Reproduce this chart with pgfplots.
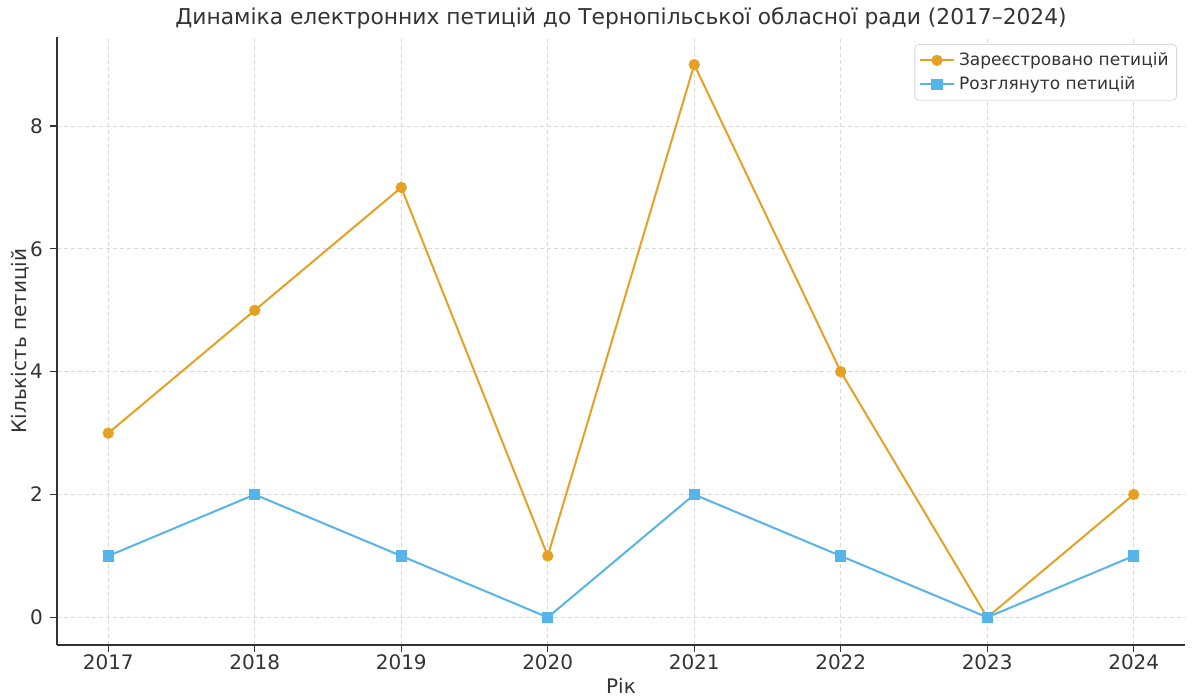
\documentclass[border=0pt]{standalone}
\usepackage{fontspec}
\setmainfont{DejaVu Sans}
\usepackage{pgfplots}
\pgfplotsset{compat=1.18}
\definecolor{regorange}{HTML}{E6A024}
\definecolor{revblue}{HTML}{56B4E9}
\definecolor{txt}{HTML}{333333}
\begin{document}
\begin{tikzpicture}
  \begin{axis}[
    width=564pt, height=304pt, scale only axis,
    xmin=2016.65, xmax=2024.35,
    ymin=-0.45, ymax=9.45,
    xtick={2017,2018,...,2024},
    ytick={0,2,4,6,8},
    /pgf/number format/assume math mode=true,
    /pgf/number format/set thousands separator={},
    axis lines*=left,
    axis line style={-, txt, line width=0.8pt},
    tick align=outside,
    major tick length=3.5pt,
    tick style={txt, line width=0.6pt},
    ticklabel style={font=\fontsize{10}{12}\selectfont, text=txt},
    xticklabel style={inner sep=1pt},
    grid=major,
    grid style={gray!30, line width=0.4pt, dash pattern=on 2pt off 1.5pt},
    title={Динаміка електронних петицій до Тернопільської обласної ради (2017–2024)},
    every axis title/.style={font=\fontsize{10.9}{13}\selectfont, text=txt,
      inner sep=0pt, at={(axis description cs:0.5,1.03)}, anchor=center},
    xlabel={Рік},
    xlabel style={font=\fontsize{10}{12}\selectfont, text=txt, inner sep=0pt,
      at={(axis description cs:0.5,-0.0674)}, anchor=center},
    ylabel={Кількість петицій},
    ylabel style={font=\fontsize{10}{12}\selectfont, text=txt, inner sep=0pt,
      at={(axis description cs:-0.0328,0.5)}, anchor=center},
    legend style={
      at={(axis description cs:0.9929,0.9885)}, anchor=north east,
      draw=gray!30, rounded corners=2pt,
      font=\fontsize{8.5}{10}\selectfont, text=txt,
      cells={anchor=west},
      inner sep=2pt,
    },
  ]
  % Зареєстровано
  \addplot[regorange, line width=1pt, mark=*, mark size=2.3pt,
    mark options={solid, fill=regorange, draw=regorange}] coordinates {
    (2017,3) (2018,5) (2019,7) (2020,1) (2021,9) (2022,4) (2023,0) (2024,2)
  };
  \addlegendentry{Зареєстровано петицій}
  % Розглянуто
  \addplot[revblue, line width=1pt, mark=square*, mark size=2.3pt,
    mark options={solid, fill=revblue, draw=revblue}] coordinates {
    (2017,1) (2018,2) (2019,1) (2020,0) (2021,2) (2022,1) (2023,0) (2024,1)
  };
  \addlegendentry{Розглянуто петицій}
  \end{axis}
  \path (current axis.south west) ++(-28.5pt,-26pt);
  \path (current axis.north east) ++(3.5pt,18.5pt);
\end{tikzpicture}
\end{document}
